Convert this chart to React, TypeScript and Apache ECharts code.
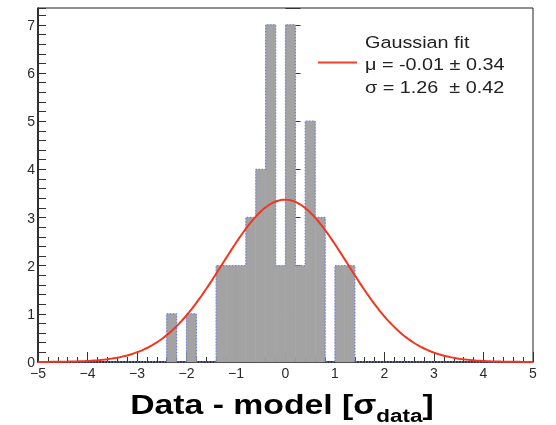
import React, { useEffect, useRef } from "react";
import * as echarts from "echarts";

// Histogram of residuals: bin lower edges (width 0.2) and their counts
const binWidth = 0.2;
const binLow = [-2.4, -2.0, -1.4, -1.2, -1.0, -0.8, -0.6, -0.4, -0.2, 0.0, 0.2, 0.4, 0.6, 1.0, 1.2];
const binCounts = [1, 1, 2, 2, 2, 3, 4, 7, 2, 7, 2, 5, 3, 2, 2];

// Gaussian fit parameters
const fitMu = -0.01;
const fitMuErr = 0.34;
const fitSigma = 1.26;
const fitSigmaErr = 0.42;
const fitPeak = 3.37;

const xMin = -5;
const xMax = 5;
const yMax = 7.35;

const FONT = '"Liberation Sans", Arial, Helvetica, sans-serif';
const BAR_FILL = "#a3a3a3";

function fmtTick(v: number): string {
  const r = Math.round(v);
  return r < 0 ? "\u2212" + Math.abs(r) : String(r);
}

export default function App() {
  const ref = useRef<HTMLDivElement>(null);

  useEffect(() => {
    if (!ref.current) return;
    const chart = echarts.init(ref.current, undefined, { renderer: "svg" });

    const barData = binLow.map((lo, i) => [lo, lo + binWidth, binCounts[i]]);

    // step outline of the histogram, including the empty stretches at zero
    const outline: number[][] = [[xMin, 0]];
    let lastX = xMin;
    let lastH = 0;
    binLow.forEach((lo, i) => {
      const h = binCounts[i];
      if (lo - lastX > 1e-9 && lastH !== 0) {
        outline.push([lastX, 0]);
        lastH = 0;
      }
      outline.push([lo, lastH]);
      outline.push([lo, h]);
      outline.push([lo + binWidth, h]);
      lastX = lo + binWidth;
      lastH = h;
    });
    outline.push([lastX, 0]);
    outline.push([xMax, 0]);

    // fitted Gaussian curve
    const curve: number[][] = [];
    for (let k = 0; k <= 200; k++) {
      const x = xMin + ((xMax - xMin) * k) / 200;
      const z = (x - fitMu) / fitSigma;
      curve.push([x, fitPeak * Math.exp(-0.5 * z * z)]);
    }

    chart.setOption({
      animation: false,
      grid: {
        left: 38,
        right: 23,
        top: 8,
        bottom: 63,
        show: true,
        borderColor: "#222",
        borderWidth: 1,
      },
      xAxis: {
        type: "value",
        min: xMin,
        max: xMax,
        interval: 1,
        axisLine: { show: true, onZero: false, lineStyle: { color: "#111", width: 1.5 } },
        axisTick: { show: true, inside: true, length: 10, lineStyle: { color: "#333", width: 1 } },
        minorTick: { show: true, splitNumber: 5, length: 5, lineStyle: { color: "#333", width: 1 } },
        axisLabel: { formatter: fmtTick, fontSize: 14, color: "#2a2a2a", fontFamily: FONT, margin: 4 },
        splitLine: { show: false },
        minorSplitLine: { show: false },
      },
      yAxis: [
        {
          type: "value",
          min: 0,
          max: yMax,
          interval: 0.2,
          axisLine: { show: true, onZero: false, lineStyle: { color: "#111", width: 1.5 } },
          axisTick: { show: true, inside: true, length: 8, lineStyle: { color: "#333", width: 1 } },
          axisLabel: {
            formatter: (v: number) => (Math.abs(v - Math.round(v)) < 1e-6 ? String(Math.round(v)) : ""),
            fontSize: 14,
            color: "#2a2a2a",
            fontFamily: FONT,
            margin: 3,
          },
          splitLine: { show: false },
        },
        {
          type: "value",
          min: 0,
          max: yMax,
          interval: 1,
          position: "left",
          axisLine: { show: false },
          axisTick: { show: true, inside: true, length: 15, lineStyle: { color: "#333", width: 1 } },
          axisLabel: { show: false },
          splitLine: { show: false },
        },
      ],
      series: [
        {
          type: "custom",
          xAxisIndex: 0,
          yAxisIndex: 0,
          z: 1,
          data: barData,
          encode: { x: [0, 1], y: 2 },
          renderItem: (_params: any, api: any) => {
            const p0 = api.coord([api.value(0), api.value(2)]);
            const p1 = api.coord([api.value(1), 0]);
            return {
              type: "rect",
              shape: { x: p0[0], y: p0[1], width: p1[0] - p0[0], height: p1[1] - p0[1] },
              style: { fill: BAR_FILL, stroke: BAR_FILL, lineWidth: 0.6 },
            };
          },
        },
        {
          type: "line",
          z: 2,
          data: outline,
          showSymbol: false,
          symbol: "none",
          lineStyle: { color: "#6f80ea", width: 1.3, type: [1.3, 1.7] },
        },
        {
          type: "line",
          z: 3,
          data: curve,
          showSymbol: false,
          symbol: "none",
          lineStyle: { color: "#f2361f", width: 2 },
        },
      ],
      graphic: [
        {
          type: "line",
          shape: { x1: 318, y1: 62.5, x2: 357, y2: 62.5 },
          style: { stroke: "#f0412c", lineWidth: 2 },
        },
        {
          type: "text",
          x: 365,
          y: 42.5,
          scaleX: 1.2,
          style: {
            text: "Gaussian fit",
            font: `16.5px ${FONT}`,
            fill: "#222",
            textAlign: "left",
            textVerticalAlign: "middle",
          },
        },
        {
          type: "text",
          x: 365,
          y: 65,
          scaleX: 1.2,
          style: {
            text: `\u03bc = ${fitMu.toFixed(2)} \u00b1 ${fitMuErr.toFixed(2)}`,
            font: `16.5px ${FONT}`,
            fill: "#222",
            textAlign: "left",
            textVerticalAlign: "middle",
          },
        },
        {
          type: "text",
          x: 365,
          y: 87.5,
          scaleX: 1.2,
          style: {
            text: `\u03c3 = ${fitSigma.toFixed(2)}  \u00b1 ${fitSigmaErr.toFixed(2)}`,
            font: `16.5px ${FONT}`,
            fill: "#222",
            textAlign: "left",
            textVerticalAlign: "middle",
          },
        },
        {
          type: "text",
          x: 282,
          y: 406.4,
          scaleX: 1.25,
          style: {
            text: "{m|Data - model [\u03c3}{s|data}{m|]}",
            textAlign: "center",
            textVerticalAlign: "middle",
            rich: {
              m: {
                fontSize: 27,
                fontWeight: "bold",
                fontFamily: FONT,
                fill: "#000",
                lineHeight: 32,
                verticalAlign: "top",
              },
              s: {
                fontSize: 18,
                fontWeight: "bold",
                fontFamily: FONT,
                fill: "#000",
                lineHeight: 18,
                padding: [16, 0, 0, 0],
                verticalAlign: "top",
              },
            },
          },
        },
      ],
    });

    return () => chart.dispose();
  }, []);

  return <div ref={ref} style={{ position: "fixed", left: 0, top: 0, width: 556, height: 425 }} />;
}
